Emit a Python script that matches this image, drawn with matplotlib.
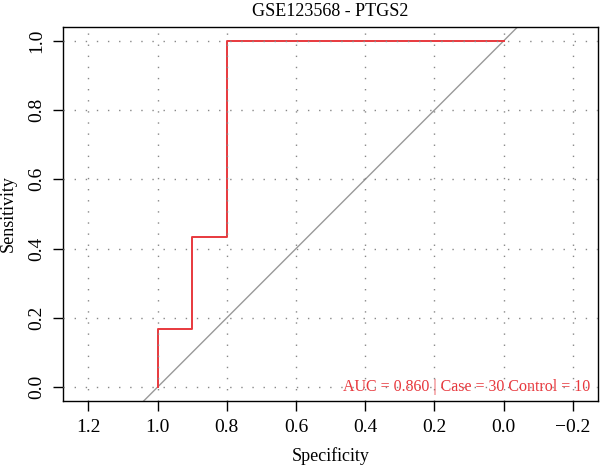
import matplotlib
matplotlib.use("Agg")
import matplotlib.pyplot as plt

plt.rcParams['font.family'] = ['Liberation Serif', 'DejaVu Serif']

# ROC 曲线数据 (specificity, sensitivity)
specificity = [1.0, 1.0, 0.9, 0.9, 0.8, 0.8, 0.0]
sensitivity = [0.0, 0.1667, 0.1667, 0.4333, 0.4333, 1.0, 1.0]
xticks = [1.2, 1.0, 0.8, 0.6, 0.4, 0.2, 0.0, -0.2]
xticklabels = ['1.2', '1.0', '0.8', '0.6', '0.4', '0.2', '0.0', '\u22120.2']
yticks = [0.0, 0.2, 0.4, 0.6, 0.8, 1.0]
auc_text = 'AUC = 0.860 | Case = 30 Control = 10'

fig = plt.figure(figsize=(6.0, 4.65), dpi=100)
ax = fig.add_axes([0.105, 0.1376, 0.892, 0.8044])

# 网格
for x in xticks:
    ax.axvline(x, color='#888888', linestyle=(0, (1, 7)), linewidth=1, zorder=3)
for y in yticks:
    ax.axhline(y, color='#888888', linestyle=(0, (1, 7)), linewidth=1, zorder=3)

# 对角线
ax.axline((1, 0), (0, 1), color='#999999', linewidth=1, zorder=1)

# ROC 曲线
ax.plot(specificity, sensitivity, color='#e8383d', linewidth=1.4, zorder=2)

ax.text(-0.249, 0.0, auc_text, color='#e8383d', fontsize=11.5, ha='right', va='center')

ax.set_xlim(1.273, -0.273)
ax.set_ylim(-0.04, 1.04)
ax.set_xticks(xticks)
ax.set_xticklabels(xticklabels, fontsize=14)
ax.set_yticks(yticks)
ax.set_yticklabels(['0.0', '0.2', '0.4', '0.6', '0.8', '1.0'], fontsize=14,
                   rotation=90, va='center')
ax.tick_params(direction='out', length=7, width=1, pad=6)
for s in ax.spines.values():
    s.set_linewidth(1)

ax.set_xlabel('Specificity', fontsize=13, labelpad=8)
ax.set_ylabel('Sensitivity', fontsize=13, labelpad=8)
ax.set_title('GSE123568 - PTGS2', fontsize=13, pad=8)

fig.savefig('out.png', dpi=100)
